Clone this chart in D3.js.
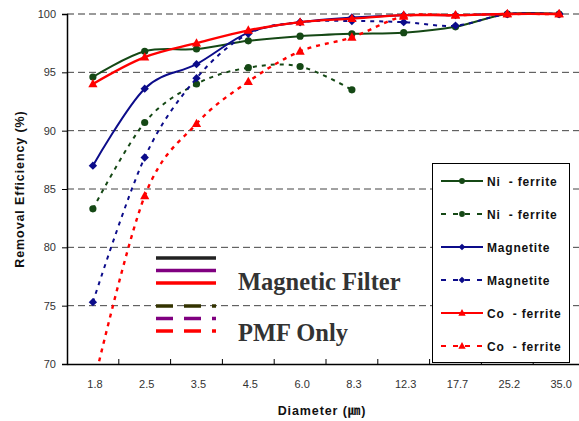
<!DOCTYPE html>
<html lang="en">
	<head>
		<meta charset="UTF-8" />
		<script src="https://d3js.org/d3.v7.min.js"></script>
		<title>Removal Efficiency</title>
		<style>
			body { margin: 0; background: #fff; }
			svg { display: block; }
		</style>
	</head>
	<body>
		<svg width="579" height="421"></svg>
		<script>
			const diameters = ["1.8", "2.5", "3.5", "4.5", "6.0", "8.3", "12.3", "17.7", "25.2", "35.0"];
			const yTicks = [70, 75, 80, 85, 90, 95, 100];

			const niFilter = [94.6, 96.8, 97.0, 97.7, 98.1, 98.3, 98.4, 98.9, 100, 100];
			const niPmf = [83.3, 90.7, 94.0, 95.4, 95.5, 93.5, null, null, null, null];
			const magFilter = [87.0, 93.6, 95.7, 98.4, 99.3, 99.7, 99.9, 99.9, 100, 100];
			const magPmf = [75.3, 87.7, 94.5, 98.3, 99.3, 99.4, 99.3, 99.0, 100, 100];
			const coFilter = [94.0, 96.3, 97.5, 98.6, 99.3, 99.6, 99.9, 99.9, 100, 100];
			const coPmf = [68.0, 84.4, 90.6, 94.2, 96.8, 98.0, 99.8, 99.9, 100, 100];

			const series = [
				{ name: "Ni  - ferrite", values: niFilter, color: "#154815", dash: null, marker: "circle" },
				{ name: "Ni  - ferrite", values: niPmf, color: "#154815", dash: "4,5", marker: "circle" },
				{ name: "Magnetite", values: magFilter, color: "#0c0c8a", dash: null, marker: "diamond" },
				{ name: "Magnetite", values: magPmf, color: "#0c0c8a", dash: "4,5", marker: "diamond" },
				{ name: "Co  - ferrite", values: coFilter, color: "#ff0000", dash: null, marker: "triangle" },
				{ name: "Co  - ferrite", values: coPmf, color: "#ff0000", dash: "4,5", marker: "triangle" }
			];

			const svg = d3.select("svg");
			const plotLeft = 67, plotRight = 585, plotTop = 14, plotBottom = 364;

			const x = d3.scaleBand().domain(diameters).range([plotLeft, plotRight]);
			const y = d3.scaleLinear().domain([70, 100]).range([plotBottom, plotTop]);

			// grid
			svg.append("g")
				.selectAll("line")
				.data(yTicks.filter(d => d > 70))
				.join("line")
				.attr("x1", plotLeft)
				.attr("x2", plotRight)
				.attr("y1", d => y(d))
				.attr("y2", d => y(d))
				.attr("stroke", d => (d === 100 ? "#9a9a9a" : "#444"))
				.attr("stroke-width", d => (d === 100 ? 2 : 1))
				.attr("stroke-dasharray", "7,4");

			// axes
			const yAxis = svg.append("g")
				.attr("transform", `translate(${plotLeft},0)`)
				.call(d3.axisLeft(y).tickValues(yTicks).tickSize(5).tickPadding(6));
			yAxis.select(".domain").attr("stroke", "#000").attr("stroke-width", 1.5);
			yAxis.selectAll("text")
				.attr("font-family", "Liberation Sans, Arial, sans-serif")
				.attr("font-size", 11)
				.attr("fill", "#333");

			const xAxis = svg.append("g")
				.attr("transform", `translate(0,${plotBottom})`)
				.call(d3.axisBottom(x).tickSize(0).tickPadding(16));
			xAxis.select(".domain").attr("stroke", "#000").attr("stroke-width", 1.5);
			xAxis.selectAll("text")
				.attr("font-family", "Liberation Sans, Arial, sans-serif")
				.attr("font-size", 11)
				.attr("fill", "#333")
				.attr("dx", 2);
			svg.append("g")
				.selectAll("line")
				.data(diameters.slice(1))
				.join("line")
				.attr("x1", d => x(d))
				.attr("x2", d => x(d))
				.attr("y1", plotBottom)
				.attr("y2", plotBottom - 5)
				.attr("stroke", "#000");

			svg.append("clipPath")
				.attr("id", "plot")
				.append("rect")
				.attr("x", plotLeft)
				.attr("y", 0)
				.attr("width", plotRight - plotLeft)
				.attr("height", plotBottom);

			const line = d3.line()
				.defined(d => d != null)
				.x((d, i) => x(diameters[i]) + x.bandwidth() / 2)
				.y(d => y(d))
				.curve(d3.curveCardinal);

			function drawMarker(g, type, cx, cy, color, s) {
				if (type === "circle") {
					g.append("circle").attr("cx", cx).attr("cy", cy).attr("r", 3.6 * s).attr("fill", color);
				} else if (type === "diamond") {
					const r = 4.2 * s;
					g.append("path")
						.attr("d", `M${cx},${cy - r}L${cx + r},${cy}L${cx},${cy + r}L${cx - r},${cy}Z`)
						.attr("fill", color);
				} else {
					const w = 4.6 * s, h = 8.4 * s;
					g.append("path")
						.attr("d", `M${cx},${cy - h * 0.6}L${cx + w},${cy + h * 0.4}L${cx - w},${cy + h * 0.4}Z`)
						.attr("fill", color);
				}
			}

			const plot = svg.append("g");
			series.forEach(s => {
				plot.append("path")
					.attr("d", line(s.values))
					.attr("clip-path", "url(#plot)")
					.attr("fill", "none")
					.attr("stroke", s.color)
					.attr("stroke-width", s.color === "#ff0000" ? 2.4 : 2)
					.attr("stroke-dasharray", s.dash);
				const mg = plot.append("g");
				s.values.forEach((v, i) => {
					if (v == null || v < 70) return;
					drawMarker(mg, s.marker, x(diameters[i]) + x.bandwidth() / 2, y(v), s.color, 1);
				});
			});

			// series legend
			const legend = svg.append("g");
			legend.append("rect")
				.attr("x", 432.5)
				.attr("y", 163.5)
				.attr("width", 137)
				.attr("height", 199)
				.attr("fill", "#fff")
				.attr("stroke", "#000");
			series.forEach((s, i) => {
				const ly = 181 + i * 33;
				legend.append("line")
					.attr("x1", 441)
					.attr("x2", 483)
					.attr("y1", ly)
					.attr("y2", ly)
					.attr("stroke", s.color)
					.attr("stroke-width", 2)
					.attr("stroke-dasharray", s.dash ? "5,7" : null);
				drawMarker(legend, s.marker, 462, ly, s.color, 0.8);
				legend.append("text")
					.attr("x", 487)
					.attr("y", ly + 4.5)
					.attr("xml:space", "preserve")
					.style("white-space", "pre")
					.attr("font-family", "Liberation Sans, Arial, sans-serif")
					.attr("font-weight", "bold")
					.attr("font-size", 12)
					.attr("letter-spacing", 0.8)
					.attr("fill", "#111")
					.text(s.name);
			});

			// filter / PMF legend
			const groups = [
				{ label: "Magnetic Filter", colors: ["#222222", "#800080", "#ff0000"], dash: null, y0: 258, ty: 290 },
				{ label: "PMF Only", colors: ["#333300", "#800080", "#ff0000"], dash: "17,11", y0: 306, ty: 341 }
			];
			groups.forEach(gr => {
				gr.colors.forEach((c, i) => {
					svg.append("line")
						.attr("x1", 156)
						.attr("x2", 216)
						.attr("y1", gr.y0 + i * 12.5)
						.attr("y2", gr.y0 + i * 12.5)
						.attr("stroke", c)
						.attr("stroke-width", 3.5)
						.attr("stroke-dasharray", gr.dash);
				});
				svg.append("text")
					.attr("x", 238)
					.attr("y", gr.ty)
					.attr("font-family", "Liberation Serif, Times New Roman, serif")
					.attr("font-weight", "bold")
					.attr("font-size", 24.5)
					.attr("fill", "#333")
					.text(gr.label);
			});

			// axis titles
			svg.append("text")
				.attr("transform", "translate(24,189) rotate(-90)")
				.attr("text-anchor", "middle")
				.attr("font-family", "Liberation Sans, Arial, sans-serif")
				.attr("font-weight", "bold")
				.attr("font-size", 12.5)
				.attr("letter-spacing", 0.9)
				.attr("fill", "#111")
				.text("Removal Efficiency (%)");

			const xt = svg.append("text")
				.attr("x", 322)
				.attr("y", 415)
				.attr("text-anchor", "middle")
				.attr("font-family", "Liberation Sans, Arial, sans-serif")
				.attr("font-weight", "bold")
				.attr("font-size", 12.5)
				.attr("letter-spacing", 0.9)
				.attr("fill", "#111");
			xt.append("tspan").text("Diameter (");
			xt.append("tspan").attr("font-family", "Noto Sans CJK KR").text("\u339B");
			xt.append("tspan").text(")");
		</script>
	</body>
</html>
